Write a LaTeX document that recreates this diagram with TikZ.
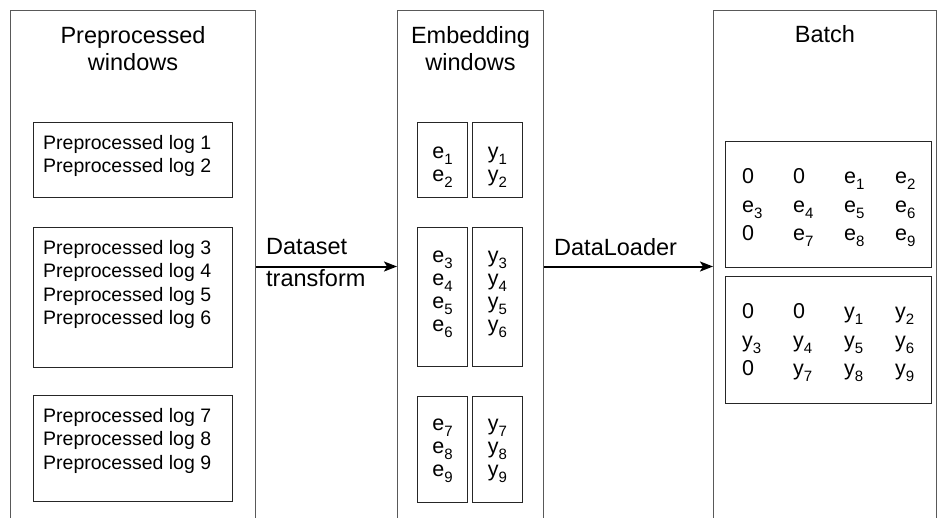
\documentclass[tikz,border=0pt]{standalone}
\usepackage{fontspec}
\setmainfont{Liberation Sans}
\usetikzlibrary{arrows.meta,positioning,calc}

% lowered index after e and y
\newcommand{\subidx}[1]{\raisebox{-6pt}{\fontsize{15}{15}\selectfont #1}}

\begin{document}
\begin{tikzpicture}[x=1pt, y=-1pt,
  window/.style={rectangle, draw=black!65, line width=1pt, anchor=north west,
                 minimum height=512pt, inner sep=0pt},
  group/.style={rectangle, draw=black!85, line width=0.9pt, anchor=north west,
                inner sep=0pt},
  head/.style={font=\fontsize{23.5}{27}\selectfont, align=center, inner sep=0pt},
  logtext/.style={font=\fontsize{19.5}{23.5}\selectfont, align=left, inner sep=0pt},
  embtext/.style={font=\fontsize{21.5}{23}\selectfont, align=center, inner sep=0pt},
  batchtext/.style={font=\fontsize{21.5}{28.5}\selectfont, inner sep=0pt},
  edgelabel/.style={font=\fontsize{23.5}{32}\selectfont, align=left, inner sep=0pt},
  flow/.style={draw=black, line width=2pt,
               -{Stealth[length=13pt, width=10pt, inset=3pt]}},
]
  \useasboundingbox (0,0) rectangle (937,517);
  \clip (0,0) rectangle (937,517);

  % ===== Three stage columns =====
  \node[window, minimum width=245pt] (prepwin) at (10,10) {};
  \node[window, minimum width=146pt] (embwin) at (397,10) {};
  \node[window, minimum width=223pt] (batchwin) at (713,10) {};

  \node[head, anchor=north] (prephead) at ($(prepwin.north)+(0,16)$)
       {Preprocessed\\windows};
  \node[head, anchor=north] (embhead) at ($(embwin.north)+(0,16)$)
       {Embedding\\windows};
  \node[head, anchor=north] (batchhead) at ($(batchwin.north)+(0,15)$) {Batch};

  % ===== Preprocessed logs =====
  \node[group, minimum width=199pt, minimum height=75pt] (logs1) at (33,122) {};
  \node[group, minimum width=199pt, minimum height=140pt] (logs2) at (33,227) {};
  \node[group, minimum width=199pt, minimum height=106pt] (logs3) at (33,395) {};

  \node[logtext, below right=13pt and 10pt of logs1.north west] (logs1txt)
       {Preprocessed log 1\\Preprocessed log 2};
  \node[logtext, below right=13pt and 10pt of logs2.north west] (logs2txt)
       {Preprocessed log 3\\Preprocessed log 4\\Preprocessed log 5\\Preprocessed log 6};
  \node[logtext, below right=13pt and 10pt of logs3.north west] (logs3txt)
       {Preprocessed log 7\\Preprocessed log 8\\Preprocessed log 9};

  % ===== Embeddings and targets =====
  \node[group, minimum width=50pt, minimum height=75pt] (emb1) at (417,122) {};
  \node[group, minimum width=50pt, minimum height=75pt] (tgt1) at (472,122) {};
  \node[group, minimum width=50pt, minimum height=139pt] (emb2) at (417,227) {};
  \node[group, minimum width=50pt, minimum height=139pt] (tgt2) at (472,227) {};
  \node[group, minimum width=50pt, minimum height=106pt] (emb3) at (417,396) {};
  \node[group, minimum width=50pt, minimum height=106pt] (tgt3) at (472,396) {};

  \node[embtext, below=25pt of emb1.north] (emb1txt) {e\subidx{1}\\e\subidx{2}};
  \node[embtext, below=25pt of tgt1.north] (tgt1txt) {y\subidx{1}\\y\subidx{2}};
  \node[embtext, below=24pt of emb2.north] (emb2txt)
       {e\subidx{3}\\e\subidx{4}\\e\subidx{5}\\e\subidx{6}};
  \node[embtext, below=24pt of tgt2.north] (tgt2txt)
       {y\subidx{3}\\y\subidx{4}\\y\subidx{5}\\y\subidx{6}};
  \node[embtext, below=23pt of emb3.north] (emb3txt)
       {e\subidx{7}\\e\subidx{8}\\e\subidx{9}};
  \node[embtext, below=23pt of tgt3.north] (tgt3txt)
       {y\subidx{7}\\y\subidx{8}\\y\subidx{9}};

  % ===== Padded batch =====
  \node[group, minimum width=206pt, minimum height=126pt] (batche) at (725,141) {};
  \node[group, minimum width=206pt, minimum height=127pt] (batchy) at (725,276) {};

  \node[batchtext, below right=22.5pt and 17pt of batche.north west] (batchetxt)
       {\begin{tabular}{@{}p{51pt}@{}p{51pt}@{}p{51pt}@{}l@{}}
          0 & 0 & e\subidx{1} & e\subidx{2}\\
          e\subidx{3} & e\subidx{4} & e\subidx{5} & e\subidx{6}\\
          0 & e\subidx{7} & e\subidx{8} & e\subidx{9}
        \end{tabular}};
  \node[batchtext, below right=22.5pt and 17pt of batchy.north west] (batchytxt)
       {\begin{tabular}{@{}p{51pt}@{}p{51pt}@{}p{51pt}@{}l@{}}
          0 & 0 & y\subidx{1} & y\subidx{2}\\
          y\subidx{3} & y\subidx{4} & y\subidx{5} & y\subidx{6}\\
          0 & y\subidx{7} & y\subidx{8} & y\subidx{9}
        \end{tabular}};

  % ===== Edges =====
  \draw[flow] (prepwin) -- (embwin);
  \node[edgelabel, anchor=north west] (dslabel) at ($(prepwin.east)+(10,-28)$)
       {Dataset\\transform};

  \draw[flow] (embwin) -- (batchwin);
  \node[edgelabel, anchor=base west] (dllabel) at ($(embwin.east)+(10,-11)$)
       {DataLoader};

\end{tikzpicture}
\end{document}
